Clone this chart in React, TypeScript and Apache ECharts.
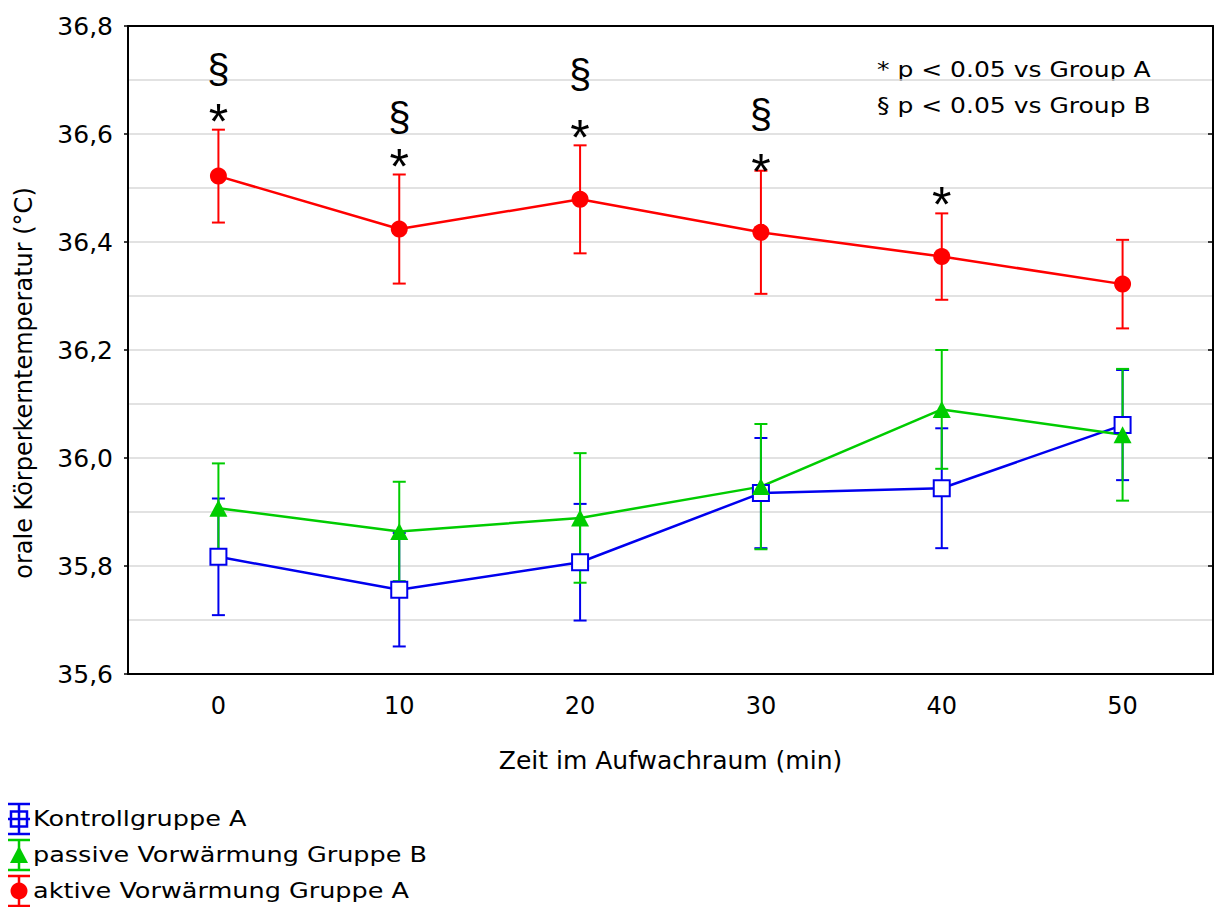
import React, { useEffect, useRef } from "react";
import * as echarts from "echarts";

const categories = ["0", "10", "20", "30", "40", "50"];
const blueMean = [35.817, 35.756, 35.807, 35.935, 35.944, 36.061];
const blueErr = [0.108, 0.105, 0.108, 0.102, 0.111, 0.102];
const greenMean = [35.907, 35.864, 35.889, 35.947, 36.09, 36.043];
const greenErr = [0.083, 0.092, 0.12, 0.116, 0.11, 0.122];
const redMean = [36.522, 36.424, 36.479, 36.418, 36.373, 36.322];
const redErr = [0.086, 0.101, 0.1, 0.114, 0.08, 0.082];

const seriesNames = ["Kontrollgruppe A", "passive Vorwärmung Gruppe B", "aktive Vorwärmung Gruppe A"];
const noteLines = ["* p < 0.05 vs Group A", "§ p < 0.05 vs Group B"];
const starPos = [[0, 36.641], [1, 36.558], [2, 36.611], [3, 36.549], [4, 36.487]];
const sectPos = [[0, 36.725], [1, 36.635], [2, 36.715], [3, 36.641]];

const BLUE = "#0000ee";
const GREEN = "#00cc00";
const RED = "#ff0000";
const FONT = "DejaVu Sans";

function errSeries(mean: number[], err: number[], color: string) {
  return {
    type: "custom",
    silent: true,
    data: mean.map((m, i) => [i, m - err[i], m + err[i]]),
    encode: { x: 0, y: [1, 2] },
    renderItem: (params: any, api: any) => {
      const x = api.value(0);
      const p1 = api.coord([x, api.value(2)]);
      const p2 = api.coord([x, api.value(1)]);
      const w = 6.5;
      const st = { stroke: color, lineWidth: 2 };
      return {
        type: "group",
        children: [
          { type: "line", shape: { x1: p1[0], y1: p1[1], x2: p2[0], y2: p2[1] }, style: st },
          { type: "line", shape: { x1: p1[0] - w, y1: p1[1], x2: p1[0] + w, y2: p1[1] }, style: st },
          { type: "line", shape: { x1: p2[0] - w, y1: p2[1], x2: p2[0] + w, y2: p2[1] }, style: st },
        ],
      };
    },
  };
}

function legendItem(row: number, color: string, kind: string, text: string) {
  const cy = [819, 855, 891][row];
  const top = cy - 15;
  const bot = cy + 15;
  const st = { stroke: color, lineWidth: 2.5 };
  const children: any[] = [
    { type: "line", shape: { x1: 19, y1: top, x2: 19, y2: bot }, style: st },
    { type: "line", shape: { x1: 8, y1: top, x2: 30, y2: top }, style: st },
    { type: "line", shape: { x1: 8, y1: bot, x2: 30, y2: bot }, style: st },
  ];
  if (kind === "rect") {
    children.push({ type: "line", shape: { x1: 8, y1: cy, x2: 30, y2: cy }, style: st });
    children.push({ type: "rect", shape: { x: 11, y: cy - 7.5, width: 16, height: 15 }, style: { fill: "none", stroke: color, lineWidth: 2.5 } });
  } else if (kind === "triangle") {
    children.push({ type: "polygon", shape: { points: [[19, cy - 9], [28, cy + 8], [10, cy + 8]] }, style: { fill: color } });
  } else {
    children.push({ type: "circle", shape: { cx: 19, cy: cy, r: 8.5 }, style: { fill: color } });
  }
  children.push({
    type: "text",
    x: 33,
    y: cy,
    scaleX: 1.16,
    style: { text, fill: "#000", font: `22px "${FONT}"`, textVerticalAlign: "middle", textAlign: "left" },
  });
  return { type: "group", children };
}

export default function App() {
  const ref = useRef<HTMLDivElement>(null);
  useEffect(() => {
    if (!ref.current) return;
    const chart = echarts.init(ref.current, null, { renderer: "svg" });
    const fmt = (v: number) => v.toFixed(1).replace(".", ",");
    const axisLine = { show: true, onZero: false, lineStyle: { color: "#000", width: 2 } };
    const tickStyle = { color: "#000", width: 1.5 };
    const annot = (pos: number[][], sym: string, size: number, dy: number) => ({
      type: "scatter",
      silent: true,
      symbolSize: 0,
      data: pos,
      z: 5,
      itemStyle: { opacity: 1 },
      label: {
        show: true,
        position: "inside",
        formatter: sym,
        color: "#000",
        opacity: 1,
        textBorderWidth: 0,
        fontSize: size,
        fontFamily: "Liberation Sans",
        offset: [0, dy],
      },
    });
    chart.setOption({
      animation: false,
      backgroundColor: "#fff",
      grid: { left: 128, right: 4, top: 26, bottom: 233, containLabel: false },
      xAxis: [
        {
          type: "category",
          data: categories,
          boundaryGap: true,
          position: "bottom",
          axisLine,
          axisTick: { alignWithLabel: true, inside: true, length: 5, lineStyle: tickStyle },
          axisLabel: { color: "#000", fontSize: 24, fontFamily: FONT, margin: 20 },
          splitLine: { show: false },
          name: "Zeit im Aufwachraum (min)",
          nameLocation: "middle",
          nameGap: 74,
          nameTextStyle: { color: "#000", fontSize: 25, fontFamily: FONT },
        },
        {
          type: "category",
          data: categories,
          boundaryGap: true,
          position: "top",
          axisLine,
          axisTick: { alignWithLabel: true, inside: true, length: 5, lineStyle: tickStyle },
          axisLabel: { show: false },
          splitLine: { show: false },
        },
      ],
      yAxis: [
        {
          type: "value",
          min: 35.6,
          max: 36.8,
          interval: 0.2,
          position: "left",
          axisLine,
          axisTick: { show: true, inside: false, length: 4, lineStyle: tickStyle },
          axisLabel: { color: "#000", fontSize: 25, fontFamily: FONT, margin: 15, formatter: fmt },
          splitLine: { show: true, lineStyle: { color: "#d9d9d9", width: 1.5 } },
          minorTick: { show: false, splitNumber: 2 },
          minorSplitLine: { show: true, lineStyle: { color: "#d9d9d9", width: 1.5 } },
          name: "orale Körperkerntemperatur (°C)",
          nameLocation: "middle",
          nameGap: 92,
          nameTextStyle: { color: "#000", fontSize: 24, fontFamily: FONT, padding: [0, 66, 0, 0] },
        },
        {
          type: "value",
          min: 35.6,
          max: 36.8,
          interval: 0.2,
          position: "right",
          axisLine,
          axisTick: { show: true, inside: true, length: 5, lineStyle: tickStyle },
          axisLabel: { show: false },
          splitLine: { show: false },
        },
      ],
      series: [
        errSeries(blueMean, blueErr, BLUE),
        {
          type: "line",
          name: seriesNames[0],
          data: blueMean,
          symbol: "emptyRect",
          symbolSize: 16,
          lineStyle: { color: BLUE, width: 2.5 },
          itemStyle: { color: BLUE, borderColor: BLUE, borderWidth: 2.5 },
        },
        errSeries(greenMean, greenErr, GREEN),
        {
          type: "line",
          name: seriesNames[1],
          data: greenMean,
          symbol: "triangle",
          symbolSize: [18, 17],
          lineStyle: { color: GREEN, width: 2.5 },
          itemStyle: { color: GREEN },
        },
        errSeries(redMean, redErr, RED),
        {
          type: "line",
          name: seriesNames[2],
          data: redMean,
          symbol: "circle",
          symbolSize: 17,
          lineStyle: { color: RED, width: 2.5 },
          itemStyle: { color: RED },
        },
        annot(sectPos, "§", 40, 2),
        annot(starPos, "*", 50, 10),
      ],
      graphic: [
        {
          type: "text",
          x: 877,
          y: 70,
          scaleX: 1.19,
          style: { text: noteLines[0], fill: "#000", font: `21px "${FONT}"`, textVerticalAlign: "middle" },
        },
        {
          type: "text",
          x: 877,
          y: 106,
          scaleX: 1.19,
          style: { text: noteLines[1], fill: "#000", font: `21px "${FONT}"`, textVerticalAlign: "middle" },
        },
        legendItem(0, BLUE, "rect", seriesNames[0]),
        legendItem(1, GREEN, "triangle", seriesNames[1]),
        legendItem(2, RED, "circle", seriesNames[2]),
      ],
    });
    return () => chart.dispose();
  }, []);
  return <div ref={ref} style={{ position: "fixed", left: 0, top: 0, width: 1217, height: 907 }} />;
}
